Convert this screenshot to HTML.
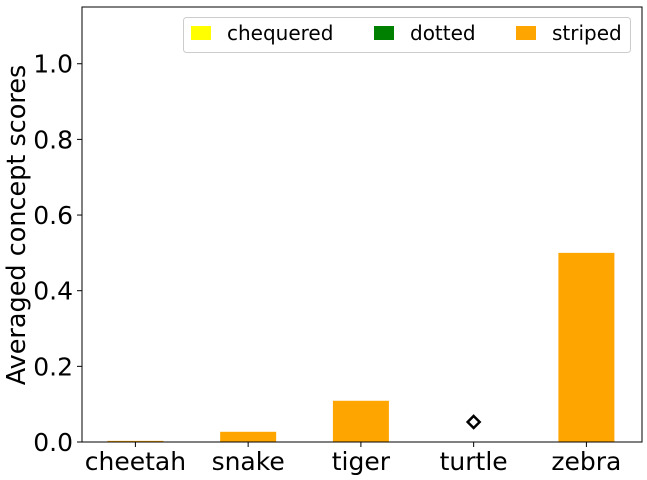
<!DOCTYPE html>
<html><head><meta charset="utf-8"><style>
html,body{margin:0;padding:0;background:#fff}
svg{display:block;font-family:"DejaVu Sans","Liberation Sans",sans-serif}
</style></head><body>
<svg id="chart" width="647" height="480"></svg>
<script>
const categories = ["cheetah","snake","tiger","turtle","zebra"];
const chequered = [0, 0.001, 0, 0, 0];
const dotted = [0, 0, 0, 0, 0];
const striped = [0.003, 0.026, 0.109, 0, 0.5];
const markerValues = [null, null, null, 0.053, null];
const yTicks = [0.0, 0.2, 0.4, 0.6, 0.8, 1.0];
const yTickLabels = ["0.0","0.2","0.4","0.6","0.8","1.0"];

const L=82, R=642, T=7, B=442, yMax=1.15;
const NS="http://www.w3.org/2000/svg";
const svg=document.getElementById('chart');
const y=v=>B-(v/yMax)*(B-T);
const step=(586.4-135.4)/4;
const x=i=>135.4+i*step;
const bw=56;
function mk(tag,attrs,parent){const e=document.createElementNS(NS,tag);for(const k in attrs)e.setAttribute(k,attrs[k]);(parent||svg).appendChild(e);return e;}

categories.forEach((c,i)=>{
  let base=0;
  [[chequered,'#ffff00','chequered'],[dotted,'#008000','dotted'],[striped,'#ffa500','striped']].forEach(([arr,col,nm])=>{
    const v=arr[i]; if(v>0){
      const r=mk('rect',{x:x(i)-bw/2,y:y(base+v),width:bw,height:y(base)-y(base+v),fill:col});
      
      
      base+=v;}
  });
  if(markerValues[i]!=null){
    const cx=x(i),cy=y(markerValues[i]),s=6;
    const p=mk('polygon',{points:`${cx},${cy-s} ${cx+s},${cy} ${cx},${cy+s} ${cx-s},${cy}`,fill:'#fff',stroke:'#000','stroke-width':2.5});
    
    
  }
  mk('line',{x1:x(i),x2:x(i),y1:B,y2:B+5,stroke:'#000','stroke-width':1});
  const t=mk('text',{x:x(i),y:B+28,'text-anchor':'middle','font-size':25,fill:'#000'});
  t.textContent=c;
  
  
});
yTicks.forEach((v,i)=>{
  mk('line',{x1:L-5,x2:L,y1:y(v),y2:y(v),stroke:'#000','stroke-width':1});
  const t=mk('text',{x:L-9,y:y(v)+9,'text-anchor':'end','font-size':25,fill:'#000'});
  t.textContent=yTickLabels[i];
  
  
});
const frame=mk('rect',{x:L,y:T,width:R-L,height:B-T,fill:'none',stroke:'#000','stroke-width':1});


const yl=mk('text',{x:0,y:0,transform:`translate(25,225) rotate(-90)`,'text-anchor':'middle','font-size':25.5,fill:'#000'});
yl.textContent='Averaged concept scores';



const lg=mk('g',{});


mk('rect',{x:183.5,y:17.5,width:447,height:35,rx:3,fill:'#fff',stroke:'#ccc'},lg);
[['chequered','#ffff00',191,227],['dotted','#008000',374,410],['striped','#ffa500',516,552]].forEach(([n,c,sx,tx])=>{
  const g=mk('g',{},lg);
  
  
  mk('rect',{x:sx,y:26,width:20,height:14,fill:c},g);
  const t=mk('text',{x:tx,y:40,'font-size':20,fill:'#000'},g);
  t.textContent=n;
});
</script>
</body></html>
